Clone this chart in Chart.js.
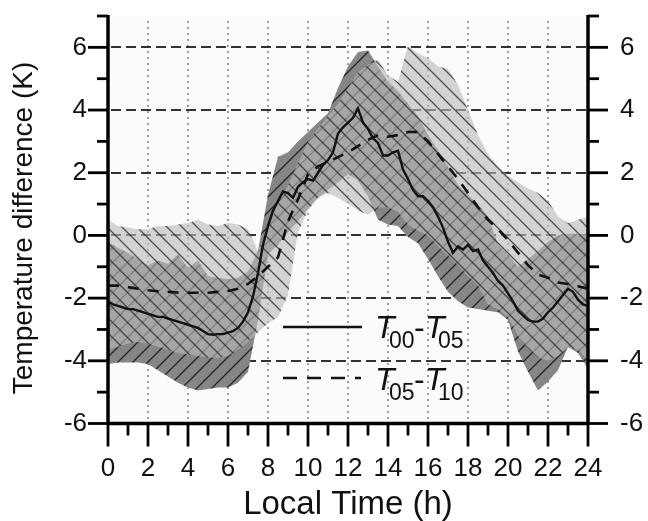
<!DOCTYPE html>
<html>
<head>
<meta charset="utf-8">
<script src="https://cdn.jsdelivr.net/npm/chart.js@4.4.1/dist/chart.umd.min.js"></script>
<style>
html,body{margin:0;padding:0;background:#ffffff;}
#wrap{width:648px;height:521px;position:relative;}
canvas{display:block;}
</style>
</head>
<body>
<div id="wrap"><canvas id="c" width="648" height="521"></canvas></div>
<script>
// ---------- data ----------
const hours = [0,0.5,1,1.5,2,2.5,3,3.5,4,4.5,5,5.5,6,6.5,7,7.5,8,8.5,9,9.5,10,10.5,11,11.5,12,12.5,13,13.5,14,14.5,15,15.5,16,16.5,17,17.5,18,18.5,19,19.5,20,20.5,21,21.5,22,22.5,23,23.5,24];
const hoursFine = [0,0.25,0.5,0.75,1,1.25,1.5,1.75,2,2.25,2.5,2.75,3,3.25,3.5,3.75,4,4.25,4.5,4.75,5,5.25,5.5,5.75,6,6.25,6.5,6.75,7,7.25,7.5,7.75,8,8.25,8.5,8.75,9,9.25,9.5,9.75,10,10.25,10.5,10.75,11,11.25,11.5,11.75,12,12.25,12.5,12.75,13,13.25,13.5,13.75,14,14.25,14.5,14.75,15,15.25,15.5,15.75,16,16.25,16.5,16.75,17,17.25,17.5,17.75,18,18.25,18.5,18.75,19,19.25,19.5,19.75,20,20.25,20.5,20.75,21,21.25,21.5,21.75,22,22.25,22.5,22.75,23,23.25,23.5,23.75,24];

// T00-T05 mean (solid line)
const t0005 = [-2.1,-2.2,-2.25,-2.3,-2.35,-2.35,-2.4,-2.45,-2.5,-2.55,-2.6,-2.6,-2.65,-2.7,-2.75,-2.8,-2.85,-2.9,-2.95,-3.05,-3.15,-3.17,-3.15,-3.15,-3.1,-3.05,-2.95,-2.75,-2.45,-1.95,-1.2,-0.3,0.3,0.8,1.1,1.4,1.35,1.2,1.55,1.7,1.8,1.75,2.0,2.25,2.4,2.65,3.25,3.45,3.6,3.75,4.05,3.6,3.4,3.1,2.95,2.55,2.55,2.65,2.7,2.1,1.8,1.45,1.25,1.25,1.1,0.9,0.6,0.25,-0.2,-0.55,-0.35,-0.45,-0.3,-0.5,-0.45,-0.8,-1.0,-1.2,-1.45,-1.6,-1.85,-2.1,-2.4,-2.55,-2.7,-2.75,-2.75,-2.65,-2.45,-2.3,-2.1,-1.9,-1.7,-1.8,-2.05,-2.2,-2.25];
// T05-T10 mean (dashed line)
const t0510 = [-1.6,-1.6,-1.65,-1.7,-1.75,-1.78,-1.8,-1.82,-1.83,-1.83,-1.83,-1.8,-1.77,-1.7,-1.55,-1.3,-1.0,-0.7,0.45,1.15,1.95,2.2,2.35,2.5,2.65,2.85,3.05,3.2,3.15,3.2,3.3,3.3,3.0,2.6,2.2,1.8,1.35,0.9,0.5,0.2,-0.15,-0.55,-0.95,-1.25,-1.35,-1.5,-1.55,-1.62,-1.7];
// T00-T05 spread (dark band)
const band0005Upper = [-0.2,-0.4,-0.55,-0.75,-0.95,-0.8,-0.9,-0.6,-1.05,-0.8,-1.3,-1.35,-1.4,-1.35,-1.15,-0.5,1.3,2.5,2.65,3.0,3.3,3.6,3.9,4.7,5.4,5.85,5.9,5.4,4.9,4.6,4.2,3.8,3.2,2.7,2.2,1.6,1.3,1.0,0.6,-0.3,-0.6,-1.0,-0.75,-0.5,-0.2,0.0,0.05,0.05,0.0];
const band0005Lower = [-4.1,-4.05,-4.05,-4.05,-4.1,-4.3,-4.5,-4.7,-4.85,-4.95,-4.9,-4.85,-4.85,-4.7,-4.35,-2.7,-0.6,-0.3,0.1,0.45,0.85,1.2,1.45,1.7,1.95,1.75,1.25,0.5,0.35,0.3,-0.05,-0.25,-0.75,-1.3,-1.8,-2.1,-2.3,-2.35,-2.4,-2.45,-2.7,-3.7,-4.35,-4.95,-4.65,-4.3,-3.55,-3.75,-4.25];
// T05-T10 spread (light band)
const band0510Upper = [0.5,0.3,0.25,0.2,0.2,0.3,0.3,0.35,0.4,0.5,0.35,0.3,0.4,0.35,0.2,-0.5,0.2,1.0,1.6,2.3,3.0,3.4,3.8,4.2,4.7,5.2,5.45,5.6,5.1,4.9,6.05,5.8,5.65,5.4,5.3,4.8,4.0,3.2,2.6,2.2,1.9,1.7,1.5,1.35,1.1,0.6,0.4,0.5,0.6];
const band0510Lower = [-3.65,-3.55,-3.45,-3.4,-3.45,-3.55,-3.65,-3.75,-3.8,-3.85,-3.9,-3.9,-3.85,-3.65,-3.4,-3.1,-2.8,-2.6,-1.9,0.1,0.8,1.2,1.35,1.2,1.0,0.8,0.65,0.9,0.9,0.75,0.35,0.15,0.0,-0.35,-0.65,-0.95,-1.3,-1.6,-2.2,-2.35,-2.6,-3.2,-3.6,-3.9,-4.0,-3.85,-3.6,-3.65,-4.0];

// tick labels
const xTickLabels = [0,2,4,6,8,10,12,14,16,18,20,22,24];
const yTickLabels = [-6,-4,-2,0,2,4,6];
const xTitle = 'Local Time (h)';
const yTitle = 'Temperature difference (K)';

// ---------- drawing helpers ----------
const canvas = document.getElementById('c');
const mainCtx = canvas.getContext('2d');
const FONT = '"Liberation Sans", Arial, Helvetica, sans-serif';

function hatch(base, lineColor, dir) {
  const s = 15;
  const c = document.createElement('canvas');
  c.width = s; c.height = s;
  const g = c.getContext('2d');
  g.fillStyle = base; g.fillRect(0, 0, s, s);
  g.strokeStyle = lineColor; g.lineWidth = 1.3;
  g.beginPath();
  if (dir === '/') {
    g.moveTo(0, s); g.lineTo(s, 0);
    g.moveTo(-2, 2); g.lineTo(2, -2);
    g.moveTo(s - 2, s + 2); g.lineTo(s + 2, s - 2);
  } else {
    g.moveTo(0, 0); g.lineTo(s, s);
    g.moveTo(-2, s - 2); g.lineTo(2, s + 2);
    g.moveTo(s - 2, -2); g.lineTo(s + 2, 2);
  }
  g.stroke();
  return mainCtx.createPattern(c, 'repeat');
}
const darkPattern = hatch('rgb(134,134,134)', 'rgba(25,25,25,0.9)', '/');
const lightPattern = hatch('rgba(186,186,186,0.62)', 'rgba(45,45,45,0.8)', '\\');

const pts = (xs, ys) => xs.map((h, i) => ({x: h, y: ys[i]}));
const noPad = s => { s.paddingTop = 0; s.paddingBottom = 0; s.paddingLeft = 0; s.paddingRight = 0; };

const framePlugin = {
  id: 'frame',
  beforeDatasetsDraw(chart) {
    const {ctx, chartArea: a, scales: {x, y}} = chart;
    ctx.save();
    ctx.fillStyle = '#fbfbfb';
    ctx.fillRect(a.left, a.top, a.right - a.left, a.bottom - a.top);
    // vertical dotted grid
    ctx.strokeStyle = '#808080'; ctx.lineWidth = 1.5; ctx.setLineDash([2, 4]);
    xTickLabels.forEach(h => {
      if (h === 0 || h === 24) return;
      const px = Math.round(x.getPixelForValue(h));
      ctx.beginPath(); ctx.moveTo(px, a.top + 5); ctx.lineTo(px, a.bottom); ctx.stroke();
    });
    // horizontal dashed grid
    ctx.strokeStyle = '#333333'; ctx.lineWidth = 1.8; ctx.setLineDash([10, 5]);
    yTickLabels.forEach(v => {
      if (v === -6) return;
      const py = Math.round(y.getPixelForValue(v));
      ctx.beginPath(); ctx.moveTo(a.left + 3, py); ctx.lineTo(a.right, py); ctx.stroke();
    });
    ctx.restore();
  },
  afterDraw(chart) {
    const {ctx, scales: {x, y}} = chart;
    ctx.save();
    ctx.strokeStyle = '#000'; ctx.setLineDash([]); ctx.lineCap = 'butt';
    const xl = x.getPixelForValue(0), xr = x.getPixelForValue(24);
    const yb = y.getPixelForValue(-6), yt = y.getPixelForValue(7);
    const seg = (x1, y1, x2, y2) => { ctx.beginPath(); ctx.moveTo(x1, y1); ctx.lineTo(x2, y2); ctx.stroke(); };
    ctx.lineWidth = 3.5;
    seg(xl, yt - 1, xl, yb + 1.5);
    seg(xr, yt - 1, xr, yb + 1.5);
    seg(xl, yb, xr, yb);
    ctx.lineWidth = 2.8;
    for (let v = -6; v <= 7; v++) {
      const py = y.getPixelForValue(v);
      const len = (v % 2 === 0) ? 20 : 11;
      seg(xl - len, py, xl, py);
      seg(xr, py, xr + len, py);
    }
    for (let h = 0; h <= 24; h++) {
      const px = x.getPixelForValue(h);
      const len = (h % 2 === 0) ? 23 : 12;
      seg(px, yb, px, yb + len);
    }
    // axis titles
    ctx.fillStyle = '#111';
    ctx.font = '33px ' + FONT;
    ctx.textAlign = 'center'; ctx.textBaseline = 'alphabetic';
    ctx.fillText(xTitle, 348, 514);
    ctx.save();
    ctx.translate(32, 228); ctx.rotate(-Math.PI / 2);
    ctx.font = '28px ' + FONT;
    ctx.fillText(yTitle, 0, 0);
    ctx.restore();
    // legend
    ctx.textAlign = 'left';
    ctx.lineWidth = 2.6; ctx.strokeStyle = '#111';
    seg(283, 327, 362, 327);
    ctx.setLineDash([14, 10]);
    seg(283, 378, 361, 378);
    ctx.setLineDash([]);
    const entry = (a, b, base) => {
      ctx.font = 'italic 32px ' + FONT; ctx.fillText('T', 375, base);
      ctx.font = '23px ' + FONT; ctx.fillText(a, 389, base + 10);
      ctx.font = '32px ' + FONT; ctx.fillText('-', 414, base);
      ctx.font = 'italic 32px ' + FONT; ctx.fillText('T', 425, base);
      ctx.font = '23px ' + FONT; ctx.fillText(b, 438, base + 10);
    };
    entry('00', '05', 338);
    entry('05', '10', 390);
    ctx.restore();
  }
};

new Chart(canvas, {
  type: 'line',
  data: {
    datasets: [
      {label: 'T00-T05', data: pts(hoursFine, t0005), borderColor: '#111', borderWidth: 2.4,
       pointRadius: 0, fill: false, order: 0, tension: 0},
      {label: 'T05-T10', data: pts(hours, t0510), borderColor: '#111', borderWidth: 2.6,
       borderDash: [11, 9], pointRadius: 0, fill: false, order: 1, tension: 0},
      {label: 'T05-T10 upper', data: pts(hours, band0510Upper), borderColor: 'rgba(0,0,0,0)', borderWidth: 0,
       backgroundColor: lightPattern, pointRadius: 0, fill: '+1', order: 2},
      {label: 'T05-T10 lower', data: pts(hours, band0510Lower), borderColor: 'rgba(0,0,0,0)', borderWidth: 0,
       pointRadius: 0, fill: false, order: 3},
      {label: 'T00-T05 upper', data: pts(hours, band0005Upper), borderColor: 'rgba(0,0,0,0)', borderWidth: 0,
       backgroundColor: darkPattern, pointRadius: 0, fill: '+1', order: 4},
      {label: 'T00-T05 lower', data: pts(hours, band0005Lower), borderColor: 'rgba(0,0,0,0)', borderWidth: 0,
       pointRadius: 0, fill: false, order: 5}
    ]
  },
  options: {
    responsive: false,
    animation: false,
    devicePixelRatio: 1,
    layout: {padding: {top: 16, left: 0, right: 0, bottom: 0}},
    plugins: {legend: {display: false}, tooltip: {enabled: false}},
    scales: {
      x: {
        type: 'linear', min: 0, max: 24,
        grid: {display: false, drawTicks: false}, border: {display: false},
        ticks: {stepSize: 2, autoSkip: false, maxRotation: 0, padding: 30, color: '#111',
                font: {family: FONT, size: 26},
                callback: v => xTickLabels.includes(v) ? String(v) : ''},
        afterFit: s => { s.height = 97.5; noPad(s); }
      },
      y: {
        type: 'linear', position: 'left', min: -6, max: 7,
        grid: {display: false, drawTicks: false}, border: {display: false},
        ticks: {stepSize: 2, padding: 21, color: '#111', font: {family: FONT, size: 26},
                callback: v => yTickLabels.includes(v) ? String(v) : ''},
        afterFit: s => { s.width = 108; noPad(s); }
      },
      y2: {
        type: 'linear', position: 'right', min: -6, max: 7,
        grid: {display: false, drawTicks: false}, border: {display: false},
        ticks: {stepSize: 2, padding: 32, color: '#111', font: {family: FONT, size: 26},
                callback: v => yTickLabels.includes(v) ? String(v) : ''},
        afterFit: s => { s.width = 60; noPad(s); }
      }
    }
  },
  plugins: [framePlugin]
});
</script>
</body>
</html>
